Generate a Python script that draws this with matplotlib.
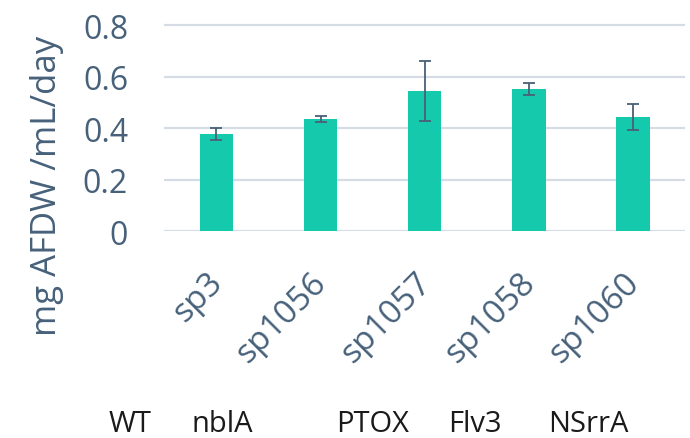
import matplotlib.pyplot as plt
from matplotlib.transforms import ScaledTranslation

strains = ["sp3", "sp1056", "sp1057", "sp1058", "sp1060"]
genes = ["WT", "nblA", "PTOX", "Flv3", "NSrrA"]
rates = [0.378, 0.437, 0.545, 0.553, 0.445]
errs = [0.022, 0.011, 0.118, 0.023, 0.050]

plt.rcParams['font.family'] = ['Open Sans', 'DejaVu Sans']
txt = '#47617A'

fig = plt.figure(figsize=(6.9, 4.39), dpi=100)
ax = fig.add_axes([0.238, 0.4715, 0.755, 0.48])

x = range(len(strains))
ax.bar(x, rates, width=0.32, color='#14C9AC', zorder=2)
ax.errorbar(x, rates, yerr=errs, fmt='none', ecolor='#4A6076',
            elinewidth=1.3, capsize=4.5, capthick=1.3, zorder=3)

ax.set_xlim(-0.5, len(strains) - 0.5)
ax.set_ylim(0, 0.82)
ax.set_yticks([0, 0.2, 0.4, 0.6, 0.8])
ax.set_yticklabels(['0', '0.2', '0.4', '0.6', '0.8'])
ax.yaxis.grid(True, color='#D6DCE4', linewidth=1.6, zorder=0)
for s in ax.spines.values():
    s.set_visible(False)
ax.tick_params(axis='both', length=0, labelsize=23, labelcolor=txt)
ax.tick_params(axis='y', pad=26)
ax.set_xticks(list(x))
ax.set_xticklabels(strains, rotation=45, ha='right', va='top', fontsize=24)
ax.tick_params(axis='x', pad=25)
shift = ScaledTranslation(13 / 100, 0, fig.dpi_scale_trans)
for lab in ax.get_xticklabels():
    lab.set_transform(lab.get_transform() + shift)

# y label placed by hand, centred lower than the axes
fig.text(47 / 690, 1 - 186 / 439, 'mg AFDW /mL/day', rotation=90,
         ha='center', va='center', fontsize=25, color=txt)

# gene names under the strains
gene_x = [130, 222, 373, 475, 588]
for g, gx in zip(genes, gene_x):
    fig.text(gx / 690, 1 - 432 / 439, g, ha='center', va='baseline',
             fontsize=21, color='#1A1A1A')

fig.savefig('out.png', dpi=100)
